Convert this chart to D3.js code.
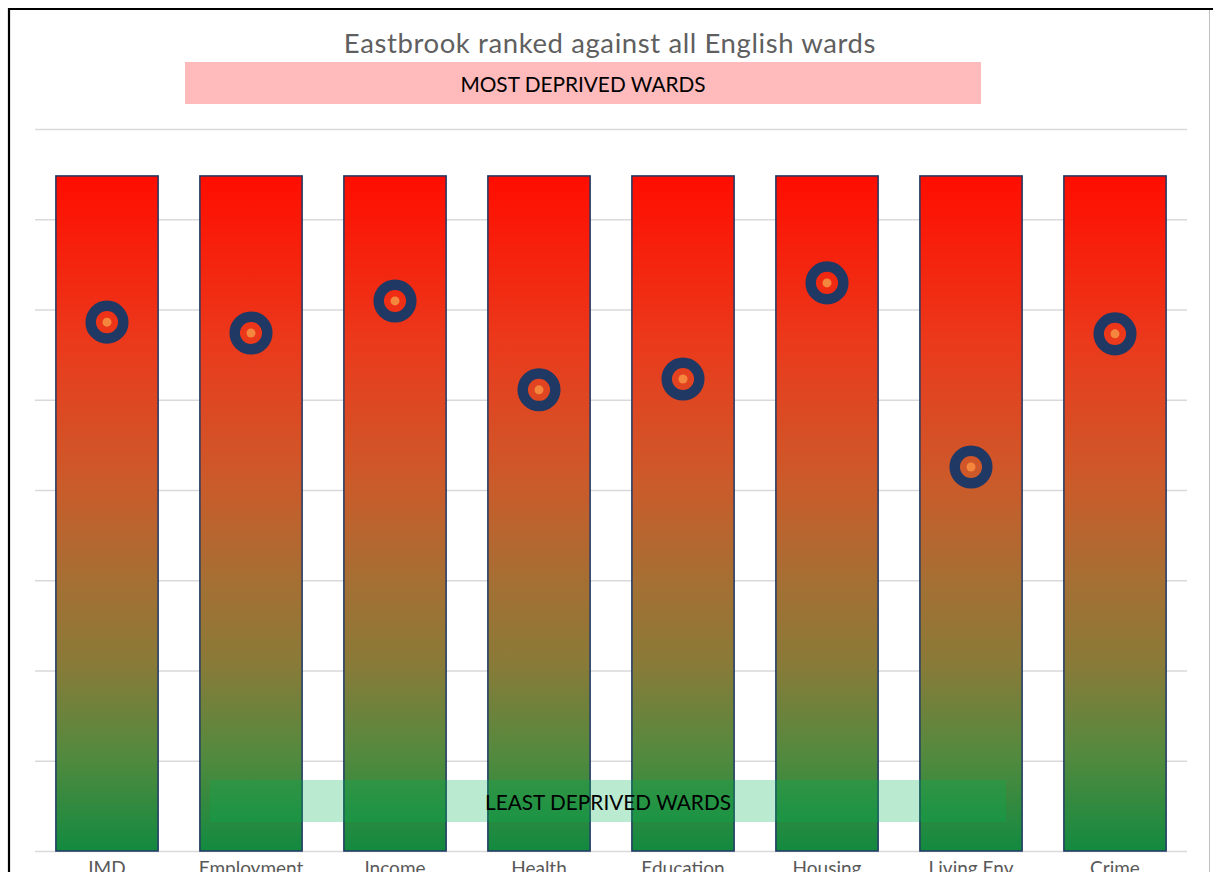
<!DOCTYPE html>
<html>
<head>
<meta charset="utf-8">
<script src="https://cdn.jsdelivr.net/npm/d3@7"></script>
<style>
  html, body { margin: 0; padding: 0; background: #ffffff; overflow: hidden; }
  svg { display: block; }
</style>
</head>
<body>
<svg id="chart" width="1213" height="872"></svg>
<script>
// ---- data ----
const categories = ["IMD", "Employment", "Income", "Health", "Education", "Housing", "Living Env", "Crime"];
const barValues = [7480, 7480, 7480, 7480, 7480, 7480, 7480, 7480];
const rankValues = [5860, 5740, 6095, 5110, 5230, 6295, 4255, 5730];
const yTicks = [0, 1000, 2000, 3000, 4000, 5000, 6000, 7000, 8000];
const titleText = "Eastbrook ranked against all English wards";
const topBandText = "MOST DEPRIVED WARDS";
const bottomBandText = "LEAST DEPRIVED WARDS";

const svg = d3.select("#chart");
const W = 1213, H = 872;
const FONT = "Lato, 'Open Sans', sans-serif";

const x = d3.scaleBand().domain(categories).range([35, 1187]).paddingInner(0.29).paddingOuter(0.145);
const y = d3.scaleLinear().domain([0, 8000]).range([851, 129]);

// gradient
const defs = svg.append("defs");
const grad = defs.append("linearGradient").attr("id", "barGrad")
  .attr("x1", 0).attr("y1", 0).attr("x2", 0).attr("y2", 1);
[[0, "#ff0d00"], [0.25, "#ea3a1c"], [0.45, "#cc5a2a"], [0.6, "#a56f33"], [0.72, "#8a7a38"], [0.86, "#528a3e"], [1, "#128a40"]]
  .forEach(([o, c]) => grad.append("stop").attr("offset", o).attr("stop-color", c));

// frame
svg.append("line").attr("x1", 1209.5).attr("x2", 1209.5).attr("y1", 9).attr("y2", H).attr("stroke", "#bfbfbf").attr("stroke-width", 1);
svg.append("line").attr("x1", 9).attr("x2", W).attr("y1", 9).attr("y2", 9).attr("stroke", "#000").attr("stroke-width", 2.2);
svg.append("line").attr("x1", 9).attr("x2", 9).attr("y1", 8).attr("y2", H).attr("stroke", "#000").attr("stroke-width", 2.2);

// gridlines via axis
const gridAxis = d3.axisLeft(y).tickValues(yTicks).tickSize(-(1187 - 35)).tickFormat("");
const g = svg.append("g").attr("transform", "translate(35,0)").call(gridAxis);
g.select(".domain").remove();
g.selectAll(".tick line").attr("stroke", "#d9d9d9").attr("stroke-width", 1.5);

// title
svg.append("text").attr("x", 610).attr("y", 53).attr("text-anchor", "middle")
  .attr("font-family", FONT).attr("font-size", 27.5).attr("letter-spacing", 0.6).attr("fill", "#5f5f5f")
  .text(titleText);

// top band
svg.append("rect").attr("x", 185).attr("y", 62).attr("width", 796).attr("height", 42).attr("fill", "#ffbbbb");
svg.append("text").attr("x", 583).attr("y", 91.5).attr("text-anchor", "middle")
  .attr("font-family", FONT).attr("font-size", 20.8).attr("fill", "#000")
  .text(topBandText);

// bars
svg.append("g").selectAll("rect").data(categories).join("rect")
  .attr("x", d => x(d)).attr("width", x.bandwidth())
  .attr("y", (d, i) => y(barValues[i])).attr("height", (d, i) => y(0) - y(barValues[i]))
  .attr("fill", "url(#barGrad)").attr("stroke", "#1f3864").attr("stroke-width", 1.5);

// bottom band (semi-transparent overlay)
svg.append("rect").attr("x", 210).attr("y", 780).attr("width", 796).attr("height", 42).attr("fill", "#00b050").attr("fill-opacity", 0.27);
svg.append("text").attr("x", 608).attr("y", 809.5).attr("text-anchor", "middle")
  .attr("font-family", FONT).attr("font-size", 20.8).attr("fill", "#000")
  .text(bottomBandText);

// markers
const mk = svg.append("g").selectAll("g").data(categories).join("g")
  .attr("transform", (d, i) => `translate(${x(d) + x.bandwidth() / 2},${y(rankValues[i])})`);
mk.append("circle").attr("r", 16.3).attr("fill", "none").attr("stroke", "#203864").attr("stroke-width", 10.5);
mk.append("circle").attr("r", 4.5).attr("fill", "#f4873d");

// x labels (cut off by the bottom edge, as in the reference)
const xAxis = d3.axisBottom(x).tickSize(0).tickPadding(0);
const xa = svg.append("g").attr("transform", "translate(0,851)").call(xAxis);
xa.select(".domain").remove();
xa.selectAll("text").attr("font-family", FONT).attr("font-size", 19).attr("fill", "#595959")
  .attr("dy", null).attr("y", 24);
</script>
</body>
</html>
